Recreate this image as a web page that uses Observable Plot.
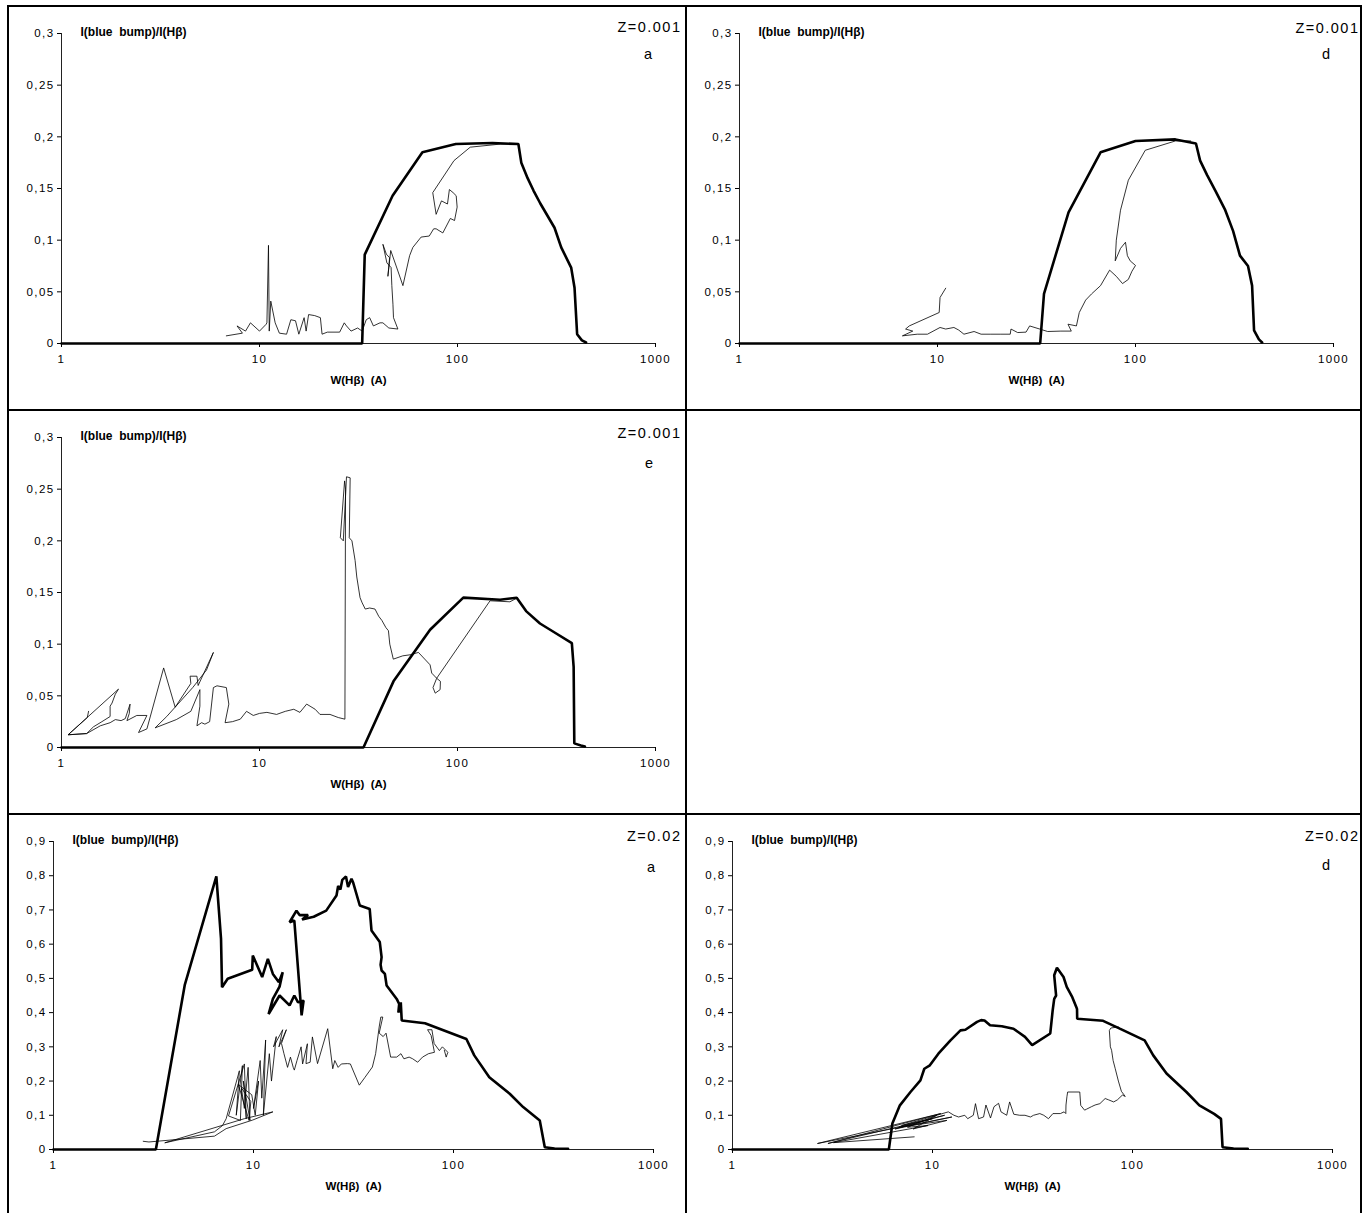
<!DOCTYPE html>
<html><head><meta charset="utf-8">
<script src="https://cdn.jsdelivr.net/npm/d3@7"></script>
<script src="https://cdn.jsdelivr.net/npm/@observablehq/plot@0.6"></script>
<style>
body{margin:0;background:#fff;}
#root{position:relative;width:1362px;height:1213px;font-family:"Liberation Sans",Arial,sans-serif;overflow:hidden;}
.cell{position:absolute;}
.bar{position:absolute;background:#000;}
.ann{position:absolute;font-size:14.5px;letter-spacing:1.5px;line-height:16px;white-space:nowrap;}
g[aria-label="x-axis tick label"] text, g[aria-label="y-axis tick label"] text{letter-spacing:1.4px;}
</style></head>
<body><div id="root"></div>
<script>
const xTicks = [1, 10, 100, 1000];
const yTicksLow = [0, 0.05, 0.1, 0.15, 0.2, 0.25, 0.3];
const yTicksHigh = [0, 0.1, 0.2, 0.3, 0.4, 0.5, 0.6, 0.7, 0.8, 0.9];
const yLabel = "I(blue\u00a0 bump)/I(H\u03b2)";
const xLabel = "W(H\u03b2)\u00a0 (A)";

// Panel a, Z=0.001
const p1Thick = [[1,0],[33,0],[34,0.086],[47,0.143],[66.5,0.185],[98,0.193],[150,0.194],[203,0.193],[210,0.175],[226,0.16],[242,0.148],[262,0.1355],[309,0.112],[334,0.093],[375,0.0735],[390,0.054],[402,0.009],[425,0.003],[446,0.001]];
const p1Thin = [[200,0.193],[165,0.193],[116,0.19],[96,0.177],[75,0.146],[78,0.125],[83,0.138],[89,0.135],[91,0.149],[95,0.146],[98.5,0.143],[99.6,0.132],[96.6,0.119],[92,0.121],[84.3,0.107],[78,0.111],[75.8,0.111],[72,0.104],[65.5,0.103],[59.5,0.093],[57.3,0.085],[53,0.056],[49,0.075],[46,0.09],[44.5,0.065],[45.4,0.083],[43.7,0.0865],[42,0.096],[44,0.078],[46.2,0.0735],[46.6,0.056],[47.2,0.038],[47.5,0.025],[50,0.014],[45,0.015],[42,0.02],[40.6,0.02],[37.6,0.017],[36,0.025],[34.6,0.023],[33,0.012],[31.3,0.015],[29,0.012],[27.5,0.017],[26.8,0.02],[25.4,0.011],[22,0.011],[20.7,0.009],[20.3,0.025],[19,0.027],[17.7,0.028],[17.2,0.012],[16.8,0.025],[15.8,0.009],[15.2,0.022],[14.4,0.023],[13.7,0.009],[12.6,0.01],[12,0.02],[11.4,0.041],[11.2,0.012],[11.1,0.095],[10.9,0.02],[10.8,0.0186],[10,0.012],[9,0.02],[8.5,0.012],[7.7,0.017],[8.2,0.01],[6.8,0.0074]];

// Panel d, Z=0.001
const p2Thick = [[1,0],[33,0],[34.5,0.048],[45.9,0.127],[66.6,0.185],[100,0.196],[159,0.1975],[202,0.1936],[212,0.177],[230,0.163],[253,0.148],[284,0.129],[311,0.109],[337,0.085],[370,0.075],[388,0.056],[397,0.0126],[420,0.004],[436,0.001]];
const p2Thin = [[190,0.196],[159,0.196],[112,0.187],[92,0.158],[84,0.129],[80,0.1],[79,0.08],[84,0.092],[89,0.098],[91,0.085],[94,0.08],[100,0.0755],[96,0.07],[92,0.062],[86,0.058],[80,0.065],[74,0.071],[66.6,0.056],[60,0.048],[56,0.042],[52,0.03],[50.3,0.017],[45.6,0.0187],[47.4,0.012],[42,0.012],[36,0.0116],[29.2,0.017],[28,0.011],[25.4,0.0106],[23.5,0.014],[23.3,0.009],[20.9,0.009],[18.6,0.009],[16.6,0.009],[15.3,0.0116],[13.6,0.009],[12.8,0.013],[12.1,0.0155],[11,0.014],[10.3,0.0155],[8.9,0.009],[7.9,0.009],[6.65,0.0074],[7.5,0.012],[6.9,0.014],[7.2,0.017],[10.2,0.03],[10.3,0.0445],[11,0.0535]];

// Panel e, Z=0.001
const p3Thick = [[1,0],[33.5,0],[47.5,0.064],[72.7,0.114],[107,0.145],[164,0.143],[199,0.145],[222,0.132],[261,0.12],[305,0.112],[378,0.101],[386,0.078],[389,0.004],[420,0.002],[440,0.001]];
const p3Thin = [[1.37,0.035],[1.35,0.029],[1.08,0.0123],[1.94,0.0565],[1.87,0.0516],[1.8,0.043],[1.76,0.04],[1.76,0.03],[1.6,0.025],[1.45,0.02],[1.34,0.0135],[1.08,0.0123],[1.34,0.0135],[1.57,0.021],[1.76,0.024],[1.87,0.027],[2.0,0.026],[2.1,0.028],[2.22,0.042],[2.2,0.033],[2.14,0.026],[2.4,0.031],[2.7,0.031],[2.45,0.0145],[2.7,0.018],[3.28,0.077],[3.75,0.039],[4.5,0.062],[4.46,0.069],[4.83,0.069],[4.9,0.06],[5.85,0.092],[5.4,0.075],[4.6,0.058],[3.4,0.03],[2.97,0.019],[3.8,0.027],[4.5,0.035],[5.0,0.056],[5.0,0.04],[4.83,0.021],[5.1,0.024],[5.3,0.0226],[5.6,0.025],[5.85,0.058],[6.1,0.0597],[6.8,0.058],[7.0,0.042],[6.7,0.024],[7.3,0.025],[8.0,0.0274],[8.6,0.035],[9.3,0.031],[10,0.033],[10.9,0.034],[12.2,0.032],[13.5,0.035],[14.9,0.037],[16,0.034],[17.3,0.042],[18,0.04],[19.1,0.037],[20.2,0.032],[22.7,0.032],[25,0.029],[27,0.0274],[27.2,0.25],[26.9,0.258],[25.6,0.203],[26.5,0.2],[27.5,0.262],[28.7,0.261],[28.4,0.203],[29.3,0.2],[30.4,0.181],[31,0.165],[32.2,0.145],[33,0.14],[34.2,0.134],[36,0.135],[38.3,0.134],[40,0.127],[41.5,0.123],[43.5,0.116],[44.8,0.113],[45.5,0.1],[47.4,0.0855],[52.9,0.0887],[57.6,0.0897],[63.5,0.092],[72.7,0.08],[74.1,0.072],[78.5,0.067],[82,0.064],[81.7,0.056],[77.2,0.0526],[75.2,0.058],[78.5,0.067],[146,0.142],[184,0.141],[199,0.1445]];

// Panel a, Z=0.02
const p4Thick = [[1,0],[3.25,0],[4.53,0.48],[6.52,0.798],[6.88,0.616],[6.96,0.474],[7.43,0.499],[9.85,0.525],[9.92,0.567],[11.05,0.504],[11.8,0.557],[12.5,0.513],[13.4,0.489],[14.0,0.518],[13.5,0.476],[12.5,0.44],[11.9,0.396],[13.5,0.45],[15.15,0.421],[16.0,0.45],[16.7,0.43],[17.8,0.435],[17.4,0.392],[16.0,0.669],[15.15,0.664],[16.4,0.698],[17.0,0.685],[18.75,0.685],[17.5,0.672],[20,0.68],[23.1,0.698],[26,0.742],[26.5,0.77],[27.2,0.76],[27.8,0.788],[29,0.798],[29.7,0.767],[30.9,0.791],[31.5,0.78],[34,0.713],[38.1,0.703],[38.9,0.64],[42.8,0.606],[43.7,0.562],[43.2,0.54],[43.7,0.523],[45.4,0.513],[46.3,0.479],[52,0.44],[53.5,0.425],[53,0.40],[54.5,0.43],[55.1,0.377],[72,0.369],[116,0.323],[127,0.275],[151,0.211],[191,0.163],[223,0.124],[270,0.085],[286,0.0068],[320,0.003],[374,0.002]];
const p4Thin = [[2.81,0.024],[3.0,0.022],[6.38,0.039],[7.3,0.061],[9.9,0.086],[12.5,0.11],[9,0.09],[3.6,0.0195],[6.38,0.0516],[7.0,0.07],[7.3,0.09],[8.5,0.23],[8.2,0.10],[8.8,0.245],[8.6,0.085],[7.5,0.098],[9.0,0.25],[9.2,0.09],[8.9,0.2],[9.6,0.085],[9.4,0.24],[9.0,0.12],[8.7,0.18],[9.7,0.14],[9.5,0.085],[8.4,0.19],[9.8,0.16],[10.2,0.1],[10.6,0.2],[10.0,0.12],[10.8,0.26],[11.0,0.15],[11.5,0.32],[11.2,0.1],[12.0,0.28],[12.3,0.2],[13.0,0.33],[12.6,0.3],[14.0,0.35],[13.4,0.3],[14.6,0.35],[13.8,0.31],[14.2,0.28],[14.8,0.24],[15.3,0.27],[15.8,0.24],[16.0,0.232],[16.5,0.26],[17.3,0.3],[17.6,0.25],[18.6,0.309],[18.3,0.251],[19.2,0.255],[19.7,0.329],[20.9,0.251],[23.5,0.353],[24.9,0.236],[25.5,0.26],[26.5,0.24],[27.5,0.25],[29.5,0.251],[30.5,0.25],[33.8,0.188],[36,0.21],[39.3,0.241],[40.8,0.28],[42.5,0.358],[43.3,0.387],[44.3,0.387],[42.5,0.34],[44.5,0.33],[46,0.34],[48.5,0.27],[52,0.27],[54.6,0.28],[56.5,0.265],[60,0.27],[62.5,0.265],[66.2,0.255],[70,0.27],[75,0.28],[80.3,0.284],[77.3,0.333],[74.2,0.35],[78,0.35],[80,0.31],[85,0.289],[88,0.3],[93.7,0.284],[91.9,0.27],[90,0.29]];

// Panel d, Z=0.02
const p5Thick = [[1,0],[6.05,0],[6.3,0.076],[6.87,0.129],[7.76,0.168],[8.7,0.202],[9.1,0.236],[9.7,0.246],[10.7,0.28],[12.3,0.319],[13.8,0.348],[14.6,0.35],[16.7,0.373],[17.5,0.378],[18.2,0.377],[19.4,0.363],[22.2,0.36],[25.4,0.353],[29,0.329],[31.5,0.305],[38.8,0.339],[39.9,0.407],[40.6,0.44],[41.5,0.45],[40.6,0.509],[41.9,0.531],[45.2,0.504],[46.9,0.475],[50,0.445],[52.4,0.416],[52.8,0.41],[52.9,0.382],[71.3,0.376],[86.4,0.353],[115,0.319],[127,0.275],[148,0.222],[186,0.168],[216,0.129],[256,0.104],[277,0.0896],[282,0.0068],[320,0.003],[377,0.002]];
const p5Thin = [[85,0.358],[78,0.355],[76.6,0.348],[77.5,0.3],[78.6,0.29],[80,0.26],[82,0.236],[85,0.2],[88,0.17],[92,0.155],[89,0.159],[84,0.145],[80.5,0.139],[76,0.145],[73,0.149],[68.7,0.134],[65,0.13],[62.3,0.125],[59,0.118],[57.6,0.115],[55.1,0.129],[54.5,0.168],[47.4,0.168],[47,0.154],[46.5,0.13],[46.4,0.105],[45.5,0.11],[43.6,0.105],[40,0.105],[38,0.09],[36,0.1],[34.4,0.105],[32,0.1],[30.9,0.095],[29,0.1],[27.3,0.1],[25.5,0.103],[24.3,0.139],[23.5,0.1],[22,0.11],[21.4,0.135],[20.3,0.125],[19.5,0.092],[18.5,0.13],[18,0.095],[17,0.09],[16.4,0.134],[16,0.1],[15,0.09],[14.5,0.1],[13.5,0.095],[12.8,0.1],[12,0.11],[7,0.07],[11.5,0.1],[6.5,0.06],[12.5,0.095],[2.66,0.0175],[11,0.105],[3.0,0.0175],[10,0.09],[6.8,0.065],[11.8,0.085],[8,0.06],[10.5,0.1],[7.5,0.065],[9.5,0.07],[3.2,0.02],[8.1,0.037]];

const panels = [
  {left:8, top:6, w:678, h:404, ml:53, mr:31, mt:27, mb:67, ymax:0.3, yt:yTicksLow, thick:p1Thick, thin:p1Thin, z:"Z=0.001", zr:680, zy:27, letter:"a", lx:648, ly:55},
  {left:686, top:6, w:676, h:404, ml:53, mr:29, mt:27, mb:67, ymax:0.3, yt:yTicksLow, thick:p2Thick, thin:p2Thin, z:"Z=0.001", zr:1358, zy:28, letter:"d", lx:1326, ly:55},
  {left:8, top:410, w:678, h:404, ml:53, mr:31, mt:27, mb:67, ymax:0.3, yt:yTicksLow, thick:p3Thick, thin:p3Thin, z:"Z=0.001", zr:680, zy:433, letter:"e", lx:649, ly:464},
  {left:8, top:814, w:678, h:399, ml:45, mr:33, mt:27, mb:64, ymax:0.9, yt:yTicksHigh, thick:p4Thick, thin:p4Thin, z:"Z=0.02", zr:680, zy:836, letter:"a", lx:651, ly:868},
  {left:686, top:814, w:676, h:399, ml:46, mr:30, mt:27, mb:64, ymax:0.9, yt:yTicksHigh, thick:p5Thick, thin:p5Thin, z:"Z=0.02", zr:1358, zy:836, letter:"d", lx:1326, ly:866}
];

const root = document.getElementById("root");
const fmtY = d => String(d).replace(".", ",");
const X = d => d[0], Y = d => d[1];

for (const p of panels) {
  const chart = Plot.plot({
    width: p.w, height: p.h,
    marginLeft: p.ml, marginRight: p.mr, marginTop: p.mt, marginBottom: p.mb,
    style: {fontFamily: "'Liberation Sans', Arial, sans-serif", fontSize: "11.5px", background: "transparent", color: "#000"},
    x: {type: "log", domain: [1, 1000]},
    y: {domain: [0, p.ymax]},
    marks: [
      Plot.axisX({ticks: xTicks, tickFormat: d => String(d), tickSize: 4, tickPadding: 7, label: null, fontSize: 11.5}),
      Plot.axisY({ticks: p.yt, tickFormat: fmtY, tickSize: 4, tickPadding: 3, label: null, fontSize: 11.5}),
      Plot.ruleY([0], {x1: 1, x2: 1000, stroke: "#222", strokeWidth: 1}),
      Plot.ruleX([1], {y1: 0, y2: p.ymax, stroke: "#222", strokeWidth: 1}),
      Plot.line(p.thin, {x: X, y: Y, stroke: "#000", strokeWidth: 0.8}),
      Plot.line(p.thick, {x: X, y: Y, stroke: "#000", strokeWidth: 2.6, strokeLinejoin: "miter"}),
      Plot.text([yLabel], {text: d => d, frameAnchor: "top-left", textAnchor: "start", dx: 19, dy: -6, fontWeight: "bold", fontSize: 12}),
      Plot.text([xLabel], {text: d => d, frameAnchor: "bottom", dy: 40, fontWeight: "bold", fontSize: 11.5})
    ]
  });
  const cell = document.createElement("div");
  cell.className = "cell";
  cell.style.left = p.left + "px";
  cell.style.top = p.top + "px";
  cell.appendChild(chart);
  root.appendChild(cell);

  const z = document.createElement("div");
  z.className = "ann";
  z.textContent = p.z;
  z.style.right = (1362 - p.zr - 1.5) + "px";
  z.style.top = (p.zy - 8) + "px";
  root.appendChild(z);

  const l = document.createElement("div");
  l.className = "ann";
  l.textContent = p.letter;
  l.style.left = (p.lx - 4) + "px";
  l.style.top = (p.ly - 9) + "px";
  root.appendChild(l);
}

// grid borders
const bars = [
  [8, 5, 1354, 2], [8, 409, 1354, 2], [8, 813, 1354, 2],
  [7, 5, 2, 1208], [685, 5, 2, 1208], [1360, 5, 2, 1208]
];
for (const [x, y, w, h] of bars) {
  const b = document.createElement("div");
  b.className = "bar";
  Object.assign(b.style, {left: x + "px", top: y + "px", width: w + "px", height: h + "px"});
  root.appendChild(b);
}
</script>
</body></html>
